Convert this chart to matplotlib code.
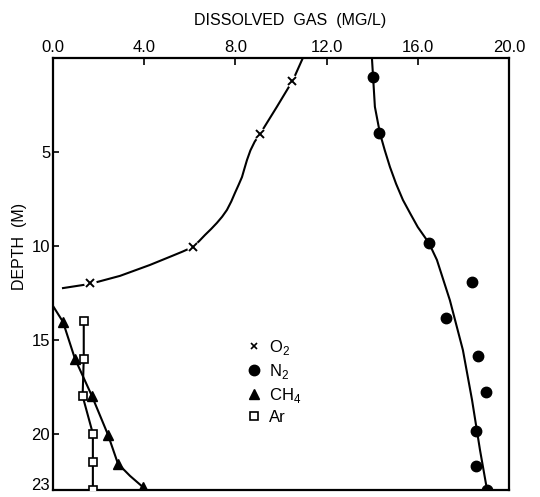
import numpy as np
import matplotlib
matplotlib.use('Agg')
import matplotlib.pyplot as plt
from matplotlib.lines import Line2D
from matplotlib.transforms import ScaledTranslation

plt.rcParams['font.family'] = ['Liberation Sans', 'DejaVu Sans']
plt.rcParams['mathtext.fontset'] = 'custom'
plt.rcParams['mathtext.rm'] = 'Liberation Sans'

# measured points (depth in m, gas in mg/L)
o2_depth = [1.2, 4.05, 10.05, 12.0]
o2_val   = [10.5, 9.08, 6.15, 1.62]

n2_depth = [1.0, 4.0, 9.85, 11.9, 13.85, 15.85, 17.8, 19.85, 21.7, 23.0]
n2_val   = [14.05, 14.3, 16.5, 18.4, 17.25, 18.65, 19.0, 18.55, 18.55, 19.05]

ch4_depth = [14.05, 16.0, 18.0, 20.05, 21.6, 22.85]
ch4_val   = [0.44, 0.96, 1.71, 2.41, 2.85, 3.95]

ar_depth = [14.0, 16.0, 18.0, 20.0, 21.5, 23.0]
ar_val   = [1.35, 1.35, 1.3, 1.75, 1.75, 1.75]

# hand drawn curves
o2_curve_x = [10.96, 10.53, 9.82, 9.08, 8.85, 8.66, 8.51, 8.4, 8.29, 8.14, 7.98, 7.82, 7.63, 7.42, 7.19, 6.94, 6.67, 6.41, 6.14, 5.68, 5.22, 4.25, 2.94, 1.62, 0.44]
o2_curve_d = [0.0, 1.17, 2.6, 4.05, 4.45, 4.92, 5.43, 5.88, 6.34, 6.76, 7.19, 7.64, 8.09, 8.45, 8.78, 9.1, 9.42, 9.75, 10.06, 10.31, 10.54, 11.02, 11.6, 12.03, 12.25]

n2_curve_x = [13.99, 14.04, 14.12, 14.34, 14.55, 14.78, 15.05, 15.35, 15.68, 16.0, 16.49, 16.84, 17.41, 17.98, 18.38, 18.73, 19.04]
n2_curve_d = [0.0, 1.0, 2.6, 4.0, 4.9, 5.8, 6.7, 7.56, 8.3, 9.0, 9.85, 10.75, 12.9, 15.55, 18.2, 20.87, 23.0]

ch4_curve_x = [0.0, 0.44, 0.96, 1.71, 2.41, 2.85, 3.38, 3.95, 4.05]
ch4_curve_d = [13.2, 14.05, 16.0, 18.0, 20.05, 21.6, 22.25, 22.85, 23.0]

fig = plt.figure(figsize=(5.4, 4.97), dpi=100)
ax = fig.add_axes([0.0981, 0.0141, 0.8444, 0.8692])

lw = 1.5
ax.plot(o2_curve_x, o2_curve_d, color='k', lw=lw, zorder=2)
ax.plot(n2_curve_x, n2_curve_d, color='k', lw=lw, zorder=2)
ax.plot(ch4_curve_x, ch4_curve_d, color='k', lw=lw, zorder=2)
ax.plot(ar_val, ar_depth, color='k', lw=lw, zorder=2)

# little gap in the line round each x
ax.plot(o2_val, o2_depth, ls='none', marker='o', ms=9, mfc='white', mec='none', zorder=3)
ax.plot(o2_val, o2_depth, ls='none', marker='x', ms=6, mew=1.4, color='k', zorder=4)
ax.plot(n2_val, n2_depth, ls='none', marker='o', ms=7.5, color='k', zorder=4)
ax.plot(ch4_val, ch4_depth, ls='none', marker='^', ms=7, color='k', zorder=4)
ax.plot(ar_val, ar_depth, ls='none', marker='s', ms=6, mfc='white', mec='k', mew=1.2, zorder=4)

ax.set_xlim(0, 20)
ax.set_ylim(23, 0)

ax.xaxis.tick_top()
ax.set_xticks([0, 4, 8, 12, 16, 20])
ax.set_xticklabels(['0.0', '4.0', '8.0', '12.0', '16.0', '20.0'])
ax.set_yticks([5, 10, 15, 20, 23])
ax.set_yticklabels(['5', '10', '15', '20', '23'])
ax.tick_params(axis='x', direction='in', length=5, width=1.2, pad=2, labelsize=12)
ax.tick_params(axis='y', direction='in', length=4, width=1.2, pad=2, labelsize=12)
for s in ax.spines.values():
    s.set_linewidth(1.6)

# keep the bottom "23" inside the picture
lab23 = ax.get_yticklabels()[-1]
lab23.set_transform(lab23.get_transform() + ScaledTranslation(0, 4/72, fig.dpi_scale_trans))

fig.text(290/540, 1 - 21/497, 'DISSOLVED  GAS  (MG/L)', ha='center', va='center', fontsize=11.5)
fig.text(20/540, 1 - 246/497, 'DEPTH  (M)', ha='center', va='center', rotation=90, fontsize=11.5)

handles = [
    Line2D([], [], ls='none', marker='x', ms=5, mew=1.2, color='k'),
    Line2D([], [], ls='none', marker='o', ms=7.5, color='k'),
    Line2D([], [], ls='none', marker='^', ms=7, color='k'),
    Line2D([], [], ls='none', marker='s', ms=6, mfc='white', mec='k', mew=1.2),
]
ax.legend(handles, [r'O$_2$', r'N$_2$', r'CH$_4$', 'Ar'], loc='upper left',
          bbox_to_anchor=(0.405, 0.372), frameon=False, fontsize=12,
          handlelength=1.0, handletextpad=0.4, labelspacing=0.3, borderpad=0)

fig.savefig('out.png', dpi=100)
